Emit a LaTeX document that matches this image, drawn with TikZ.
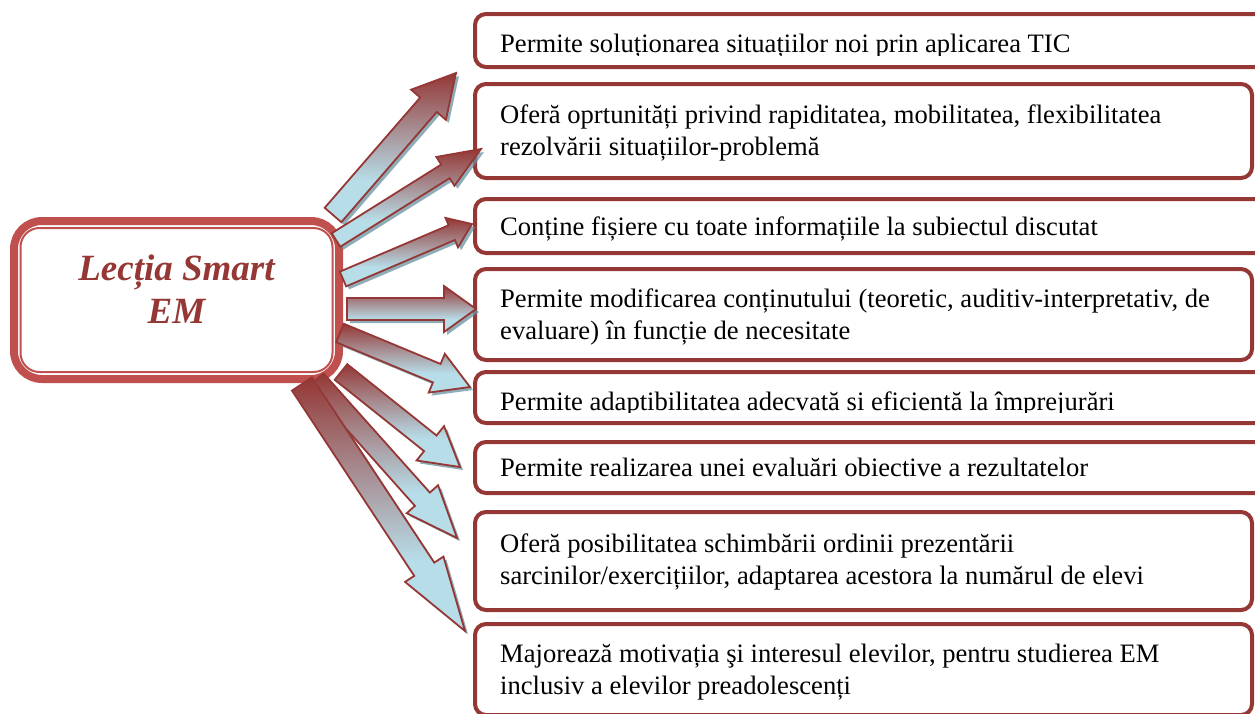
\documentclass[tikz,border=0pt]{standalone}
\usepackage{fontspec}
\setmainfont{Liberation Serif}
\usetikzlibrary{calc}
\definecolor{dred}{RGB}{149,55,53}
\definecolor{cred}{RGB}{192,80,77}
\definecolor{lblue}{RGB}{183,221,232}
\definecolor{shcol}{RGB}{105,145,160}
\pgfdeclareverticalshading{arrsh}{100bp}{color(0bp)=(lblue); color(25bp)=(lblue); color(39bp)=(lblue); color(75bp)=(dred); color(100bp)=(dred)}
\tikzset{
  ibox/.style={draw=dred, line width=4pt, rounded corners=11pt, rectangle, inner sep=0pt, outer sep=0pt},
  btxt/.style={font=\fontsize{26.6}{32}\selectfont, inner sep=0pt, anchor=west, align=left, text=black},
  ttl/.style={font=\fontsize{37}{43}\selectfont\bfseries\itshape, text=dred, align=center, inner sep=0pt},
  arrbody/.style={draw=dred, line width=1.8pt, line join=miter, shade, shading=arrsh},
  arrshadow/.style={fill=shcol, fill opacity=0.75}
}
\newcommand{\arrshape}[5]{%
  ($(#1)!#3!90:(#2)$) -- ($(#1-hb)!#3!90:(#2)$) -- ($(#1-hb)!#4!90:(#2)$) -- (#2) --
  ($(#1-hb)!#4!-90:(#2)$) -- ($(#1-hb)!#3!-90:(#2)$) -- ($(#1)!#3!-90:(#2)$) -- cycle}
\newcommand{\blockarrow}[5]{%
  \coordinate (#1-hb) at ($(#2)!#5!(#1)$);
  \begin{scope}[transform canvas={shift={(3pt,-3pt)}}]
    \path[arrshadow] \arrshape{#1}{#2}{#3}{#4}{#5};
  \end{scope}
  \path[arrbody] \arrshape{#1}{#2}{#3}{#4}{#5};}
\begin{document}
\begin{tikzpicture}[x=1pt,y=-1pt]
\useasboundingbox (0,0) rectangle (1255,713);
% boxes
\node[ibox, minimum width=795pt, minimum height=53pt] (b1) at (872.5,40.5) {};
\node[ibox, minimum width=777pt, minimum height=94pt] (b2) at (863.5,131) {};
\node[ibox, minimum width=795pt, minimum height=54pt] (b3) at (872.5,226) {};
\node[ibox, minimum width=777pt, minimum height=91pt] (b4) at (863.5,314.5) {};
\node[ibox, minimum width=795pt, minimum height=51pt] (b5) at (872.5,397.5) {};
\node[ibox, minimum width=795pt, minimum height=51pt] (b6) at (872.5,467.5) {};
\node[ibox, minimum width=777pt, minimum height=98pt] (b7) at (863.5,561) {};
\node[ibox, minimum width=777pt, minimum height=91pt] (b8) at (863.5,669.5) {};
% texts
\begin{scope}
\clip (470,0) rectangle (1260,55);
\node[btxt] (t1) at (500,45.6) {\strut Permite soluționarea situațiilor noi prin aplicarea TIC\strut};
\end{scope}
\node[btxt] (t2) at (500,132.6) {\strut Oferă oprtunități privind rapiditatea, mobilitatea, flexibilitatea\\rezolvării situațiilor-problemă\strut};
\node[btxt] (t3) at (500,228.6) {\strut Conține fișiere cu toate informațiile la subiectul discutat\strut};
\node[btxt] (t4) at (500,317) {\strut Permite modificarea conținutului (teoretic, auditiv-interpretativ, de\\evaluare) în funcție de necesitate\strut};
\begin{scope}
\clip (470,360) rectangle (1260,412);
\node[btxt] (t5) at (500,403.6) {\strut Permite adaptibilitatea adecvată si eficientă la împrejurări\strut};
\end{scope}
\node[btxt] (t6) at (500,469.6) {\strut Permite realizarea unei evaluări obiective a rezultatelor\strut};
\node[btxt] (t7) at (500,562) {\strut Oferă posibilitatea schimbării ordinii prezentării\\sarcinilor/exercițiilor, adaptarea acestora la numărul de elevi\strut};
\node[btxt] (t8) at (500,672) {\strut Majorează motivația şi interesul elevilor, pentru studierea EM\\inclusiv a elevilor preadolescenți\strut};
% central node
\node[draw=cred, line width=8pt, rounded corners=28pt, minimum width=325pt, minimum height=158pt, inner sep=0pt, outer sep=0pt] (c) at (176.5,300) {};
\draw[cred, line width=2pt, rounded corners=19pt] ($(c.center)+(-156,-72)$) rectangle ($(c.center)+(156,72)$);
\node[ttl] (ct) at (176.5,289) {Lecția Smart\\EM};
% arrow end points
\coordinate (a1) at (333,215);  \coordinate (p1) at (456,73);
\coordinate (a2) at (336,240);  \coordinate (p2) at (481,149);
\coordinate (a3) at (343,279);  \coordinate (p3) at (472,224);
\coordinate (a4) at (347,309);  \coordinate (p4) at (476,309);
\coordinate (a5) at (340,333);  \coordinate (p5) at (470,387);
\coordinate (a6) at (341,372);  \coordinate (p6) at (460,467);
\coordinate (a8) at (302,384);  \coordinate (p8) at (465,631);
\coordinate (a7) at (316,380);  \coordinate (p7) at (457,538);
% arrows
\blockarrow{a7}{p7}{10pt}{21pt}{52pt}
\blockarrow{a8}{p8}{12pt}{23pt}{74pt}
\blockarrow{a6}{p6}{10pt}{22pt}{38pt}
\blockarrow{a5}{p5}{10pt}{21pt}{36pt}
\blockarrow{a4}{p4}{11pt}{23pt}{32pt}
\blockarrow{a3}{p3}{8pt}{16pt}{22pt}
\blockarrow{a1}{p1}{11pt}{23pt}{42pt}
\blockarrow{a2}{p2}{8pt}{17pt}{42pt}
\end{tikzpicture}
\end{document}
